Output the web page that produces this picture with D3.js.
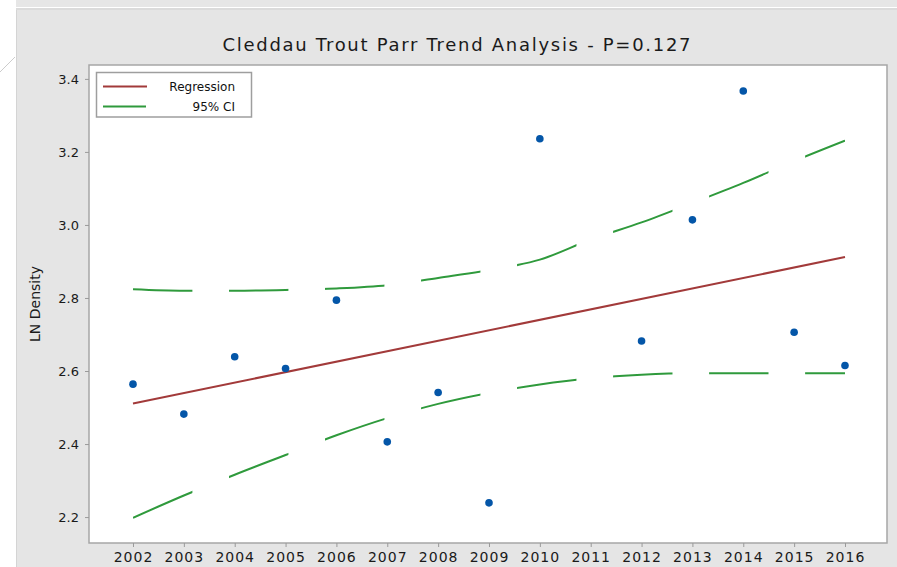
<!DOCTYPE html>
<html>
<head>
<meta charset="utf-8">
<script src="https://cdn.jsdelivr.net/npm/d3@7"></script>
<style>
  html, body { margin: 0; padding: 0; background: #fff; }
  svg { display: block; font-family: "DejaVu Sans", sans-serif; }
</style>
</head>
<body>
<div id="chart"></div>
<script>
// yearly tick labels on the x axis
const years = [2002, 2003, 2004, 2005, 2006, 2007, 2008, 2009, 2010, 2011, 2012, 2013, 2014, 2015, 2016];
const yTicks = [2.2, 2.4, 2.6, 2.8, 3.0, 3.2, 3.4];

// observed LN density (no sample in 2011)
const obsYears = [2002, 2003, 2004, 2005, 2006, 2007, 2008, 2009, 2010, 2012, 2013, 2014, 2015, 2016];
const obsValues = [2.564, 2.482, 2.639, 2.607, 2.794, 2.406, 2.541, 2.239, 3.236, 2.682, 3.014, 3.367, 2.706, 2.615];

// fitted regression line (end points)
const regYears = [2002, 2016];
const regValues = [2.511, 2.912];

// 95% confidence band, read per year
const ciUpper = [2.824, 2.820, 2.820, 2.822, 2.826, 2.835, 2.855, 2.876, 2.905, 2.960, 3.007, 3.060, 3.115, 3.175, 3.231];
const ciLower = [2.198, 2.259, 2.316, 2.370, 2.424, 2.471, 2.510, 2.540, 2.563, 2.580, 2.590, 2.594, 2.594, 2.594, 2.594];

const title = 'Cleddau Trout Parr Trend Analysis - P=0.127';

const width = 897, height = 567;
const plot = {left: 89, right: 887, top: 65, bottom: 543};

const svg = d3.select('#chart').append('svg')
  .attr('width', width)
  .attr('height', height);

// window chrome around the graph panel
svg.append('rect').attr('x', 16).attr('y', 0).attr('width', width - 16).attr('height', 7).attr('fill', '#e6e6e6');
svg.append('line').attr('x1', 16).attr('x2', width).attr('y1', 9).attr('y2', 9).attr('stroke', '#cfcfcf').attr('stroke-width', 1.5);
svg.append('rect').attr('x', 16).attr('y', 10).attr('width', width - 16).attr('height', height - 10).attr('fill', '#e5e5e5');
svg.append('line').attr('x1', 16.5).attr('x2', 16.5).attr('y1', 10).attr('y2', height).attr('stroke', '#d4d4d4');
svg.append('line').attr('x1', 0).attr('y1', 72).attr('x2', 15).attr('y2', 57).attr('stroke', '#cccccc');

const x = d3.scaleLinear().domain([2001.135, 2016.826]).range([plot.left, plot.right]);
const y = d3.scaleLinear().domain([2.129, 3.438]).range([plot.bottom, plot.top]);

svg.append('rect')
  .attr('x', plot.left).attr('y', plot.top)
  .attr('width', plot.right - plot.left).attr('height', plot.bottom - plot.top)
  .attr('fill', '#fff')
  .attr('stroke', '#a6a6a6')
  .attr('stroke-width', 1.5);

// title, centred on the panel
svg.append('text')
  .attr('x', (16 + width) / 2)
  .attr('y', 51)
  .attr('text-anchor', 'middle')
  .attr('font-size', 18)
  .attr('fill', '#1a1a1a')
  .attr('textLength', 468)
  .attr('lengthAdjust', 'spacing')
  .text(title);

// axes
const xAxis = svg.append('g')
  .attr('transform', `translate(0,${plot.bottom})`)
  .call(d3.axisBottom(x).tickValues(years).tickFormat(d3.format('d')).tickSize(4).tickSizeOuter(0).tickPadding(5));
xAxis.select('.domain').remove();
xAxis.selectAll('line').attr('stroke', '#9a9a9a');
xAxis.selectAll('text').attr('font-size', 14).attr('letter-spacing', 1).attr('fill', '#1a1a1a')
  .attr('font-family', '"DejaVu Sans", sans-serif');

const yAxis = svg.append('g')
  .attr('transform', `translate(${plot.left},0)`)
  .call(d3.axisLeft(y).tickValues(yTicks).tickFormat(d3.format('.1f')).tickSize(4).tickSizeOuter(0).tickPadding(6));
yAxis.select('.domain').remove();
yAxis.selectAll('line').attr('stroke', '#9a9a9a');
yAxis.selectAll('text').attr('font-size', 13).attr('fill', '#1a1a1a')
  .attr('font-family', '"DejaVu Sans", sans-serif');

svg.append('text')
  .attr('transform', `translate(40,${(plot.top + plot.bottom) / 2}) rotate(-90)`)
  .attr('text-anchor', 'middle')
  .attr('font-size', 14)
  .attr('fill', '#1a1a1a')
  .text('LN Density');

// long dashes of the CI lines are laid out along x, so clip with vertical strips
const dashStart = 2002, dashLen = 1.168, dashPeriod = 1.888;
const clip = svg.append('clipPath').attr('id', 'dashes');
for (let s = dashStart; s < 2016.01; s += dashPeriod) {
  clip.append('rect')
    .attr('x', x(s)).attr('y', plot.top)
    .attr('width', x(Math.min(s + dashLen, 2016)) - x(s))
    .attr('height', plot.bottom - plot.top);
}

const line = d3.line()
  .x(d => x(d[0]))
  .y(d => y(d[1]))
  .curve(d3.curveMonotoneX);

const green = '#2f9a3c';
[ciUpper, ciLower].forEach(vals => {
  svg.append('path')
    .datum(years.map((yr, i) => [yr, vals[i]]))
    .attr('d', line)
    .attr('fill', 'none')
    .attr('stroke', green)
    .attr('stroke-width', 2)
    .attr('clip-path', 'url(#dashes)');
});

svg.append('path')
  .datum(regYears.map((yr, i) => [yr, regValues[i]]))
  .attr('d', line)
  .attr('fill', 'none')
  .attr('stroke', '#a23a3a')
  .attr('stroke-width', 2);

svg.append('g')
  .selectAll('circle')
  .data(obsYears.map((yr, i) => [yr, obsValues[i]]))
  .join('circle')
  .attr('cx', d => x(d[0]))
  .attr('cy', d => y(d[1]))
  .attr('r', 3.8)
  .attr('fill', '#0456a8');

// legend
const lg = svg.append('g');
lg.append('rect')
  .attr('x', 96.5).attr('y', 72.5).attr('width', 155).attr('height', 44.5)
  .attr('fill', '#fff').attr('stroke', '#9e9e9e').attr('stroke-width', 1.5);
lg.append('line').attr('x1', 103).attr('x2', 147).attr('y1', 86.5).attr('y2', 86.5)
  .attr('stroke', '#a23a3a').attr('stroke-width', 2);
lg.append('line').attr('x1', 103).attr('x2', 146).attr('y1', 106.5).attr('y2', 106.5)
  .attr('stroke', green).attr('stroke-width', 2);
lg.append('text').attr('x', 235).attr('y', 91).attr('text-anchor', 'end')
  .attr('font-size', 12).attr('fill', '#111').text('Regression');
lg.append('text').attr('x', 235).attr('y', 111).attr('text-anchor', 'end')
  .attr('font-size', 12).attr('fill', '#111').text('95% CI');
</script>
</body>
</html>
